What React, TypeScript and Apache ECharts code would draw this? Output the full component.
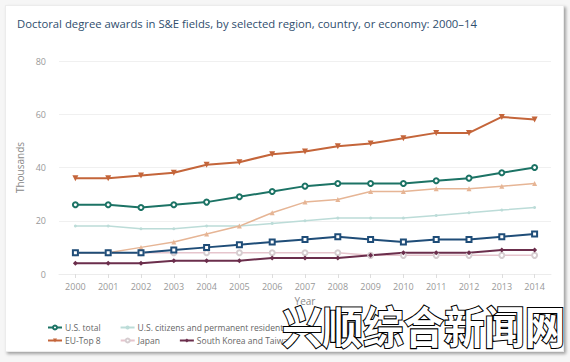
import React, { useEffect, useRef } from "react";
import * as echarts from "echarts";

const years = ["2000","2001","2002","2003","2004","2005","2006","2007","2008","2009","2010","2011","2012","2013","2014"];
const usTotal = [26, 26, 25, 26, 27, 29, 31, 33, 34, 34, 34, 35, 36, 38, 40];
const usCitizens = [18, 18, 17, 17, 18, 18, 19, 20, 21, 21, 21, 22, 23, 24, 25];
const usTemporary = [8, 8, 8, 9, 10, 11, 12, 13, 14, 13, 12, 13, 13, 14, 15];
const euTop8 = [36, 36, 37, 38, 41, 42, 45, 46, 48, 49, 51, 53, 53, 59, 58];
const japan = [8, 8, 8, 8, 8, 8, 8, 8, 8, 7, 7, 7, 7, 7, 7];
const koreaTaiwan = [4, 4, 4, 5, 5, 5, 6, 6, 6, 7, 8, 8, 8, 9, 9];
const china = [8, 8, 10, 12, 15, 18, 23, 27, 28, 31, 31, 32, 32, 33, 34];
const legendRow1 = ["U.S. total", "U.S. citizens and permanent residents"];
const legendRow2 = ["EU-Top 8", "Japan", "South Korea and Taiwan"];

const FONT = '"Open Sans", "Noto Sans", sans-serif';

export default function App() {
  const ref = useRef<HTMLDivElement>(null);
  useEffect(() => {
    if (!ref.current) return;
    const chart = echarts.init(ref.current, null, { renderer: "svg" });
    const mk = (name: string, data: number[], color: string, symbol: string, size: number, width: number, extra: any = {}) => ({
      name,
      type: "line",
      data,
      symbol,
      symbolSize: size,
      showSymbol: true,
      color,
      lineStyle: { color, width, type: "solid" },
      itemStyle: { color, borderWidth: 1.5 },
      emphasis: { disabled: true },
      ...extra,
    });
    const legendCommon = {
      left: 42,
      itemWidth: 14,
      itemHeight: 5,
      itemGap: 19,
      textStyle: { fontFamily: FONT, fontSize: 8.5, color: "#666", padding: [0, 0, 0, -2] },
      selectedMode: false,
    };
    chart.setOption({
      animation: false,
      backgroundColor: "transparent",
      title: {
        text: "Doctoral degree awards in S&E fields, by selected region, country, or economy: 2000–14",
        left: 12,
        top: 13,
        textStyle: { fontFamily: FONT, fontSize: 11.3, fontWeight: "normal", color: "#2f4e6e" },
      },
      legend: [
        { ...legendCommon, top: 318, data: legendRow1 },
        { ...legendCommon, top: 331, data: legendRow2 },
      ],
      grid: { left: 59, right: 19, top: 61, bottom: 88 },
      xAxis: {
        type: "category",
        data: years,
        boundaryGap: true,
        name: "Year",
        nameLocation: "middle",
        nameGap: 22,
        nameTextStyle: { fontFamily: FONT, fontSize: 10, color: "#888" },
        axisLine: { show: true, lineStyle: { color: "#ececec" } },
        axisTick: { show: true, alignWithLabel: true, length: 4, lineStyle: { color: "#ddd" } },
        axisLabel: { fontFamily: FONT, fontSize: 9, color: "#999", margin: 8 },
      },
      yAxis: {
        type: "value",
        min: 0,
        max: 80,
        interval: 20,
        name: "Thousands",
        nameLocation: "middle",
        nameGap: 31,
        nameTextStyle: { fontFamily: FONT, fontSize: 10, color: "#888" },
        axisLine: { show: false },
        axisTick: { show: false },
        axisLabel: { fontFamily: FONT, fontSize: 9, color: "#999", margin: 13 },
        splitLine: { lineStyle: { color: "#f0f0f0" } },
      },
      graphic: [
        {
          type: "text",
          x: 282,
          y: 303,
          scaleX: 0.92,
          z: 100,
          style: {
            text: "兴顺综合新闻网",
            font: 'bold 44px "Noto Sans CJK SC"',
            fill: "#ffffff",
            stroke: "#000000",
            lineWidth: 2.2,
          },
        },
      ],
      series: [
        mk("Japan", japan, "#e6c5cd", "emptyCircle", 5, 1.5, { itemStyle: { color: "#d6cdd0", borderWidth: 1 } }),
        mk("U.S. citizens and permanent residents", usCitizens, "#bcdcd8", "circle", 3, 1.5),
        mk("China", china, "#e6b595", "triangle", 5, 1.5),
        mk("South Korea and Taiwan", koreaTaiwan, "#6b2e4c", "diamond", 5, 2),
        mk("U.S. temporary visa holders", usTemporary, "#1f4d78", "emptyRect", 5, 2),
        mk("U.S. total", usTotal, "#1c7365", "emptyCircle", 5, 2),
        mk("EU-Top 8", euTop8, "#c4653a", "triangle", 6, 2, { symbolRotate: 180 }),
      ],
    });
    return () => chart.dispose();
  }, []);
  return (
    <div style={{ position: "fixed", left: 0, top: 0, width: 570, height: 362, background: "#f6f6f6", overflow: "hidden" }}>
      <div
        style={{
          position: "absolute",
          left: 5,
          top: 5,
          width: 557,
          height: 345,
          background: "#ffffff",
          border: "1px solid #ececec",
          boxShadow: "2px 2px 3px rgba(0,0,0,0.35)",
        }}
      />
      <div ref={ref} style={{ position: "absolute", left: 0, top: 0, width: 570, height: 362 }} />
    </div>
  );
}
